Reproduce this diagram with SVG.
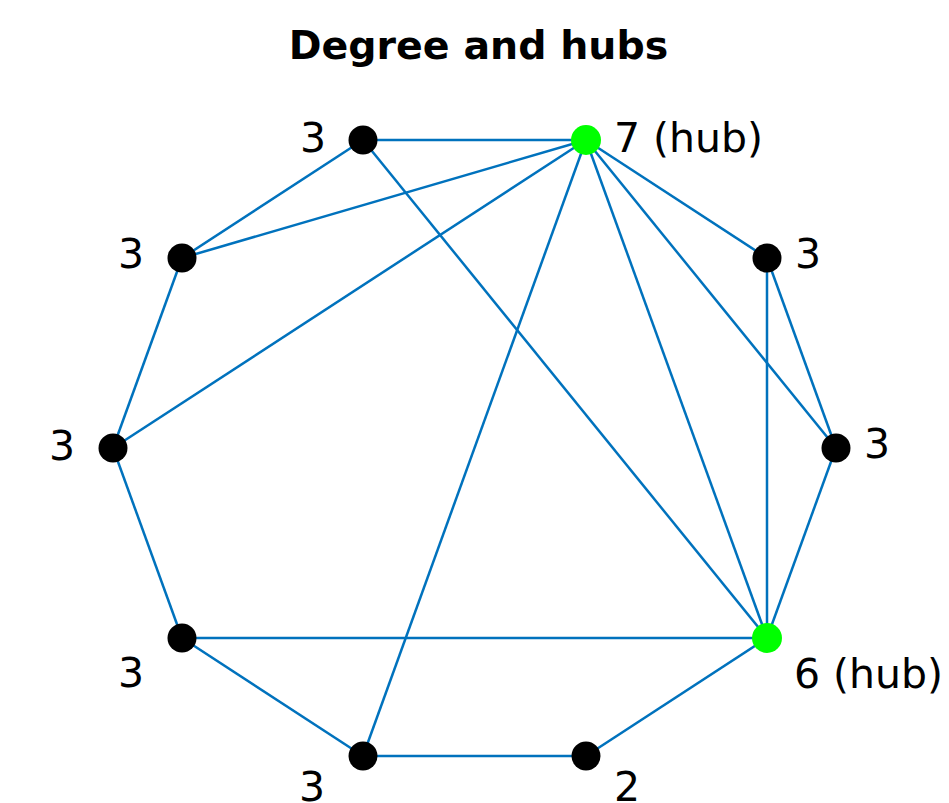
<svg xmlns="http://www.w3.org/2000/svg" width="949" height="803" viewBox="0 0 949 803">
<style>
.e{stroke:#0072BD;stroke-width:2.5;fill:none}
.n{fill:#000}
.h{fill:#00FF00}
.t{font-family:"DejaVu Sans",sans-serif;font-size:41px;fill:#000}
.title{font-family:"DejaVu Sans",sans-serif;font-size:39.5px;font-weight:bold;fill:#000}
</style>
<rect width="949" height="803" fill="#fff"/>
<text class="title" x="478.5" y="59" text-anchor="middle">Degree and hubs</text>
<g id="edges">
<line class="e" x1="363" y1="140" x2="586" y2="140"/>
<line class="e" x1="363" y1="140" x2="182" y2="258"/>
<line class="e" x1="363" y1="140" x2="767" y2="638"/>
<line class="e" x1="586" y1="140" x2="182" y2="258"/>
<line class="e" x1="586" y1="140" x2="113" y2="448"/>
<line class="e" x1="586" y1="140" x2="363" y2="756"/>
<line class="e" x1="586" y1="140" x2="767" y2="258"/>
<line class="e" x1="586" y1="140" x2="836" y2="448"/>
<line class="e" x1="586" y1="140" x2="767" y2="638"/>
<line class="e" x1="182" y1="258" x2="113" y2="448"/>
<line class="e" x1="113" y1="448" x2="182" y2="638"/>
<line class="e" x1="182" y1="638" x2="767" y2="638"/>
<line class="e" x1="182" y1="638" x2="363" y2="756"/>
<line class="e" x1="363" y1="756" x2="586" y2="756"/>
<line class="e" x1="586" y1="756" x2="767" y2="638"/>
<line class="e" x1="767" y1="258" x2="767" y2="638"/>
<line class="e" x1="767" y1="258" x2="836" y2="448"/>
<line class="e" x1="836" y1="448" x2="767" y2="638"/>
</g>
<g id="nA"><circle class="n" cx="363" cy="140" r="14.5"/><text class="t" x="326" y="152" text-anchor="end">3</text></g>
<g id="nB"><circle class="h" cx="586" cy="140" r="15"/><text class="t" x="614" y="152">7 (hub)</text></g>
<g id="nC"><circle class="n" cx="182" cy="258" r="14.5"/><text class="t" x="144" y="268" text-anchor="end">3</text></g>
<g id="nD"><circle class="n" cx="767" cy="258" r="14.5"/><text class="t" x="795" y="268">3</text></g>
<g id="nE"><circle class="n" cx="113" cy="448" r="14.5"/><text class="t" x="75" y="460" text-anchor="end">3</text></g>
<g id="nF"><circle class="n" cx="836" cy="448" r="14.5"/><text class="t" x="864" y="458">3</text></g>
<g id="nG"><circle class="n" cx="182" cy="638" r="14.5"/><text class="t" x="144" y="687" text-anchor="end">3</text></g>
<g id="nH"><circle class="h" cx="767" cy="638" r="15"/><text class="t" x="794" y="688">6 (hub)</text></g>
<g id="nI"><circle class="n" cx="363" cy="756" r="14.5"/><text class="t" x="325" y="801" text-anchor="end">3</text></g>
<g id="nJ"><circle class="n" cx="586" cy="756" r="14.5"/><text class="t" x="614" y="801">2</text></g>
</svg>
